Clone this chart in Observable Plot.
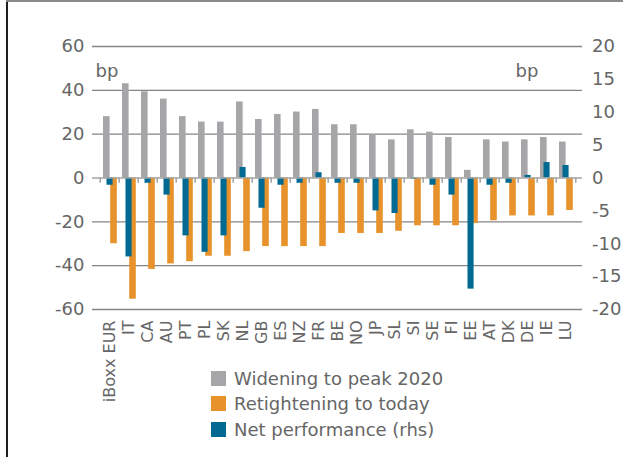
<!DOCTYPE html>
<html>
<head>
<meta charset="utf-8">
<script src="https://cdn.jsdelivr.net/npm/d3@7"></script>
<script src="https://cdn.jsdelivr.net/npm/@observablehq/plot@0.6"></script>
<style>
  body { margin: 0; background: #fff; font-family: "DejaVu Sans", Verdana, sans-serif; }
  #wrap { position: relative; width: 623px; height: 457px; overflow: hidden; }
  #lborder { position: absolute; left: 6px; top: 0; width: 1.5px; height: 457px; background: #1e1e1e; }
  #tborder { position: absolute; left: 6px; top: 0; width: 617px; height: 1.5px; background: #8a8a8a; }
  #legend { position: absolute; left: 211px; top: 366px; color: #666; font-size: 18px; }
  .row { display: flex; align-items: center; height: 25.3px; white-space: nowrap; }
  .sw { width: 15px; height: 15px; margin-right: 8px; }
</style>
</head>
<body>
<div id="wrap">
  <div id="chart"></div>
  <div id="legend"></div>
  <div id="lborder"></div>
  <div id="tborder"></div>
</div>
<script>
const categories = ["iBoxx EUR","IT","CA","AU","PT","PL","SK","NL","GB","ES","NZ","FR","BE","NO","JP","SL","SI","SE","FI","EE","AT","DK","DE","IE","LU"];
const widening = [28,43,39.3,36,28,25.5,25.5,34.7,26.7,29,30.1,31.3,24.3,24.3,19.6,17.4,22,20.9,18.5,3.5,17.4,16.4,17.4,18.5,16.4];
const retightening = [-30,-55.3,-41.7,-39.2,-38.2,-35.7,-35.7,-33.6,-31.3,-31.3,-31.3,-31.3,-25.3,-25.3,-25.3,-24.3,-21.8,-21.8,-21.8,-20.8,-19.5,-17.3,-17.3,-17.3,-14.8];
const netPerformance = [-1.1,-12,-0.8,-2.6,-8.8,-11.3,-8.8,1.6,-4.6,-1.1,-0.8,0.8,-0.8,-0.8,-5,-5.4,-0.2,-1.1,-2.6,-16.9,-1.1,-0.8,0.4,2.35,1.9];
const leftTicks = [-60,-40,-20,0,20,40,60];
const rightTicks = [-20,-15,-10,-5,0,5,10,15,20];
const seriesNames = ["Widening to peak 2020","Retightening to today","Net performance (rhs)"];
const seriesColors = ["#a6a6a9","#e7922a","#006a92"];

const rhsFactor = 60 / 20;
const rows = categories.map((c, i) => ({cat: c, w: widening[i], r: retightening[i], n: netPerformance[i]}));
const axisColor = "#a3a3a3";

const chart = Plot.plot({
  width: 623,
  height: 366,
  marginTop: 46,
  marginBottom: 57,
  marginLeft: 92,
  marginRight: 41,
  style: {fontFamily: "'DejaVu Sans', Verdana, sans-serif", color: "#666", overflow: "visible", background: "transparent"},
  x: {domain: categories, padding: 0, axis: null},
  y: {domain: [-60, 60], axis: null},
  marks: [
    Plot.ruleY(leftTicks.filter(d => d !== 0), {stroke: "#858585", strokeWidth: 1.3}),
    Plot.barY(rows, {x: "cat", y: "w", fill: seriesColors[0], insetLeft: 3, insetRight: 9.4}),
    Plot.barY(rows, {x: "cat", y: "r", fill: seriesColors[1], insetLeft: 10.2, insetRight: 2.2}),
    Plot.barY(rows, {x: "cat", y: d => d.n * rhsFactor, fill: seriesColors[2], insetLeft: 6.5, insetRight: 6.4}),
    Plot.ruleY([0], {stroke: axisColor, strokeWidth: 1.5}),
    Plot.ruleX(categories, {x: d => d, y1: 0, y2: -2.4, dx: -9.8, stroke: axisColor, strokeWidth: 1.5}),
    Plot.ruleX(categories.slice(-1), {x: d => d, y1: 0, y2: -2.4, dx: 9.8, stroke: axisColor, strokeWidth: 1.5}),
    Plot.axisY({anchor: "left", ticks: leftTicks, tickFormat: d => String(d), tickSize: 0, tickPadding: 8, fontSize: 18, label: null}),
    Plot.axisY({anchor: "right", ticks: rightTicks.map(d => d * rhsFactor), tickFormat: d => String(Math.round(d / rhsFactor)), tickSize: 0, tickPadding: 9.5, fontSize: 18, label: null}),
    Plot.axisX({anchor: "bottom", tickSize: 0, tickPadding: 11, tickRotate: -90, fontSize: 16, label: null}),
    Plot.text(["bp"], {frameAnchor: "top-left", textAnchor: "start", dx: 3, dy: 18, fontSize: 18, fill: "#666"}),
    Plot.text(["bp"], {frameAnchor: "top-right", textAnchor: "start", dx: -67, dy: 18, fontSize: 18, fill: "#666"})
  ]
});
document.getElementById("chart").appendChild(chart);

const legend = document.getElementById("legend");
seriesNames.forEach((name, i) => {
  const row = document.createElement("div");
  row.className = "row";
  const sw = document.createElement("div");
  sw.className = "sw";
  sw.style.background = seriesColors[i];
  const t = document.createElement("span");
  t.textContent = name;
  row.appendChild(sw);
  row.appendChild(t);
  legend.appendChild(row);
});
</script>
</body>
</html>
